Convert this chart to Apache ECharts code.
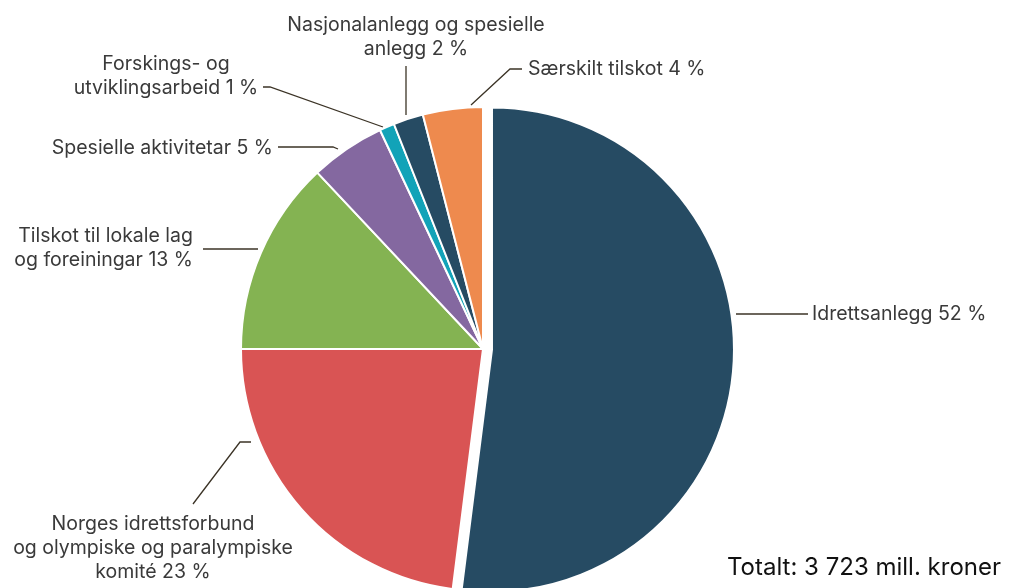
<!DOCTYPE html>
<html>
<head>
<meta charset="utf-8">
<script src="https://cdn.jsdelivr.net/npm/echarts@6/dist/echarts.min.js"></script>
<style>
  html, body { margin: 0; padding: 0; background: #fff; }
  #chart { width: 1011px; height: 588px; }
</style>
</head>
<body>
<div id="chart"></div>
<script>
// postar (prosent av totalen)
var names = [
  'Idrettsanlegg 52 %',
  'Norges idrettsforbund\nog olympiske og paralympiske\nkomité 23 %',
  'Tilskot til lokale lag\nog foreiningar 13 %',
  'Spesielle aktivitetar 5 %',
  'Forskings- og\nutviklingsarbeid 1 %',
  'Nasjonalanlegg og spesielle\nanlegg 2 %',
  'Særskilt tilskot 4 %'
];
var values = [52, 23, 13, 5, 1, 2, 4];
var colors = ['#264b63', '#d95454', '#84b352', '#8468a0', '#12a3b8', '#264b63', '#ee8a4e'];
var totalText = 'Totalt: 3 723 mill. kroner';

// plassering av etikettar og strekar (px)
var labelPos = [
  { x: 812, y: 314, align: 'left',   va: 'middle', line: [[736, 314], [808, 314]] },
  { x: 153, y: 512, align: 'center', va: 'top',    line: [[251, 442], [240, 442], [193, 504]] },
  { x: 193, y: 248, align: 'right',  va: 'middle', line: [[258, 249], [203, 249]] },
  { x: 273, y: 148, align: 'right',  va: 'middle', line: [[338, 149], [333, 147], [278, 147]] },
  { x: 166, y: 76,  align: 'center', va: 'middle', line: [[383, 127], [270, 87], [263, 87]] },
  { x: 416, y: 37,  align: 'center', va: 'middle', line: [[406, 115], [406, 66]] },
  { x: 528, y: 69,  align: 'left',   va: 'middle', line: [[471, 105], [510, 69], [522, 69]] }
];

var cx = 483, cy = 349, r = 242, explode = 9;
var fontFamily = 'Inter';

var chart = echarts.init(document.getElementById('chart'));

// det største stykket er trekt litt ut: teiknast i eigen serie
var total = values.reduce(function (a, b) { return a + b; }, 0);
var midAngle = (values[0] / total) * Math.PI; // frå toppen, med klokka
var ex = cx + explode * Math.sin(midAngle);
var ey = cy - explode * Math.cos(midAngle);

var mainData = values.map(function (v, i) {
  var d = { name: names[i], value: v, itemStyle: { color: colors[i] } };
  if (i === 0) {
    d.itemStyle = { color: 'rgba(0,0,0,0)', borderColor: 'rgba(0,0,0,0)' };
  }
  return d;
});

var bigData = [
  { name: names[0], value: values[0], itemStyle: { color: colors[0] } },
  { name: 'rest', value: total - values[0], itemStyle: { color: 'rgba(0,0,0,0)', borderColor: 'rgba(0,0,0,0)' } }
];

chart.setOption({
  animation: false,
  title: {
    text: totalText,
    right: 5,
    bottom: 3,
    textStyle: { fontFamily: fontFamily, fontSize: 24, fontWeight: 'normal', color: '#111' }
  },
  series: [{
    type: 'pie',
    center: [cx, cy],
    radius: r,
    startAngle: 90,
    avoidLabelOverlap: false,
    silent: true,
    itemStyle: { borderColor: '#fff', borderWidth: 2 },
    label: {
      show: true,
      formatter: '{b}',
      fontFamily: fontFamily,
      fontSize: 19.5,
      lineHeight: 24,
      color: '#3a3a3a'
    },
    labelLine: {
      show: true,
      lineStyle: { color: '#3b3326', width: 1.3 }
    },
    labelLayout: function (params) {
      var p = labelPos[params.dataIndex];
      return {
        x: p.x,
        y: p.y,
        align: p.align,
        verticalAlign: p.va,
        labelLinePoints: p.line
      };
    },
    emphasis: { disabled: true },
    data: mainData
  }, {
    type: 'pie',
    center: [ex, ey],
    radius: r,
    startAngle: 90,
    silent: true,
    itemStyle: { borderColor: '#fff', borderWidth: 2 },
    label: { show: false },
    labelLine: { show: false },
    emphasis: { disabled: true },
    data: bigData
  }]
});
</script>
</body>
</html>
